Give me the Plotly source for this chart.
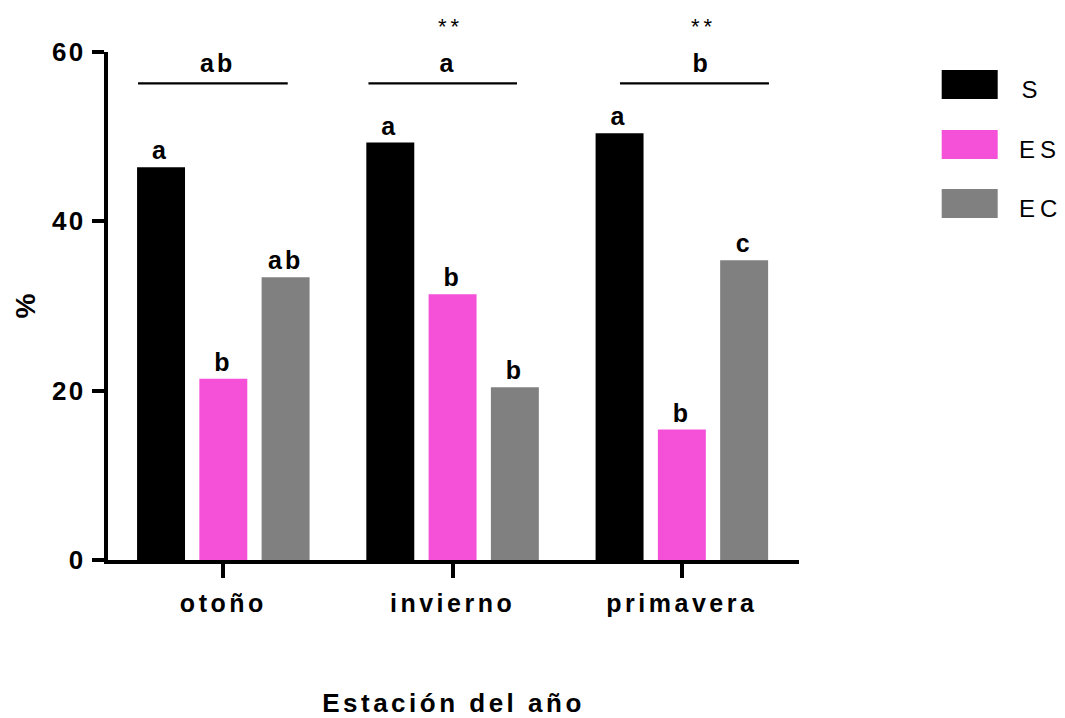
import json
import plotly.graph_objects as go

# ---- data ----
categories = ["otoño", "invierno", "primavera"]
series_names = ["S", "ES", "EC"]
values_S = [46.4, 49.3, 50.4]
values_ES = [21.4, 31.4, 15.4]
values_EC = [33.4, 20.4, 35.4]
letters_S = ["a", "a", "a"]
letters_ES = ["b", "b", "b"]
letters_EC = ["ab", "b", "c"]
group_letters = ["ab", "a", "b"]
group_stars = ["", "**", "**"]
y_ticks = [0, 20, 40, 60]

# ---- styles ----
colors = ["#000000", "#F551D8", "#808080"]
FONT = "Liberation Sans, Arial, Helvetica, sans-serif"
W, H = 1065, 718
ML, MR, MT, MB = 108, 266, 52, 158

# bracket extents (category units relative to group centre)
bracket_span = [(-0.372, 0.281), (-0.367, 0.281), (-0.270, 0.380)]
bracket_y = 56.3
label_dx = [0.018, 0.024, 0.030]


def px_x(p):
    return (p - ML) / (W - ML - MR)


def px_y(p):
    return (H - MB - p) / (H - MT - MB)


fig = go.Figure()
series_vals = [values_S, values_ES, values_EC]
series_letters = [letters_S, letters_ES, letters_EC]
for name, vals, lets, col in zip(series_names, series_vals, series_letters, colors):
    fig.add_trace(go.Bar(
        x=categories, y=vals, name=name, text=lets,
        textposition="outside", cliponaxis=False, constraintext="none",
        textfont=dict(family=FONT, size=25, color="#000000", weight="bold"),
        marker=dict(color=col, line=dict(width=0)),
        showlegend=False, hoverinfo="x+y+name",
    ))

shapes = []
annotations = []
for i, gl in enumerate(group_letters):
    x0, x1 = bracket_span[i]
    shapes.append(dict(type="line", xref="x", yref="y", x0=i + x0, x1=i + x1,
                       y0=bracket_y, y1=bracket_y, line=dict(color="#000000", width=2.3)))
    annotations.append(dict(x=i + (x0 + x1) / 2 + label_dx[i], y=bracket_y, xref="x", yref="y",
                            text=gl, showarrow=False, yanchor="bottom", yshift=4,
                            font=dict(family=FONT, size=25, color="#000000", weight="bold")))
n_group_ann = len(annotations)
star_idx = []
for i, st in enumerate(group_stars):
    if st:
        x0, x1 = bracket_span[i]
        star_idx.append(len(annotations))
        annotations.append(dict(x=i + (x0 + x1) / 2 + label_dx[i] + 0.01, y=px_y(26),
                                xref="x", yref="paper",
                                text=st, showarrow=False, yanchor="middle",
                                font=dict(family=FONT, size=22, color="#000000")))

# custom legend (paper coords)
legend_box_tops = [70, 130, 189]
legend_idx = []
for k, (name, col) in enumerate(zip(series_names, colors)):
    top = legend_box_tops[k]
    shapes.append(dict(type="rect", xref="paper", yref="paper",
                       x0=px_x(941.7), x1=px_x(997.7), y0=px_y(top + 29), y1=px_y(top),
                       fillcolor=col, line=dict(width=0)))
    legend_idx.append(len(annotations))
    annotations.append(dict(x=px_x(1022), y=px_y(top + 19), xref="paper", yref="paper",
                            text=name, showarrow=False, xanchor="left", yanchor="middle",
                            font=dict(family=FONT, size=24, color="#000000")))

fig.update_layout(
    width=W, height=H,
    margin=dict(l=ML, r=MR, t=MT, b=MB, autoexpand=False),
    paper_bgcolor="white", plot_bgcolor="white",
    barmode="group", bargap=0.185, bargroupgap=0.23,
    shapes=shapes, annotations=annotations,
    showlegend=False,
    font=dict(family=FONT, color="#000000"),
)
fig.update_xaxes(
    type="category", range=[-0.503, 2.511],
    showline=True, linewidth=4, linecolor="#000000",
    ticks="outside", ticklen=14, tickwidth=4, tickcolor="#000000",
    showgrid=False, zeroline=False, automargin=False,
    ticklabelstandoff=4,
    tickfont=dict(family=FONT, size=25, color="#000000", weight="bold"),
    title=dict(text="Estación del año", standoff=79,
               font=dict(family=FONT, size=26, color="#000000", weight="bold")),
)
fig.update_yaxes(
    range=[0, 60], tickvals=y_ticks,
    showline=True, linewidth=4, linecolor="#000000",
    ticks="outside", ticklen=12, tickwidth=4, tickcolor="#000000",
    showgrid=False, zeroline=False, automargin=False,
    ticklabelstandoff=1,
    tickfont=dict(family=FONT, size=26, color="#000000", weight="bold"),
    title=dict(text="%", standoff=14,
               font=dict(family=FONT, size=28, color="#000000", weight="bold")),
)

spacing = {
    "xticks": "3.5px", "yticks": "2.5px", "bartext": "3px", "xtitle": "3.5px",
    "group": list(range(n_group_ann)), "stars": star_idx, "legend": legend_idx,
}
post = """
document.body.style.margin = '0';
document.body.style.padding = '0';
var gd = document.getElementById('{plot_id}');
var cfg = %s;
function ls(sel, v){ gd.querySelectorAll(sel).forEach(function(t){ t.style.letterSpacing = v; }); }
ls('.xtick text', cfg.xticks);
ls('.ytick text', cfg.yticks);
ls('.bartext', cfg.bartext);
ls('.bartext text', cfg.bartext);
ls('.g-xtitle text', cfg.xtitle);
cfg.group.forEach(function(i){ ls('.annotation[data-index="'+i+'"] text', '3px'); });
cfg.stars.forEach(function(i){ ls('.annotation[data-index="'+i+'"] text', '4px'); });
cfg.legend.forEach(function(i){ ls('.annotation[data-index="'+i+'"] text', '5px'); });
""" % json.dumps(spacing)

fig.write_html("out.html", post_script=post, config={"displayModeBar": False})
